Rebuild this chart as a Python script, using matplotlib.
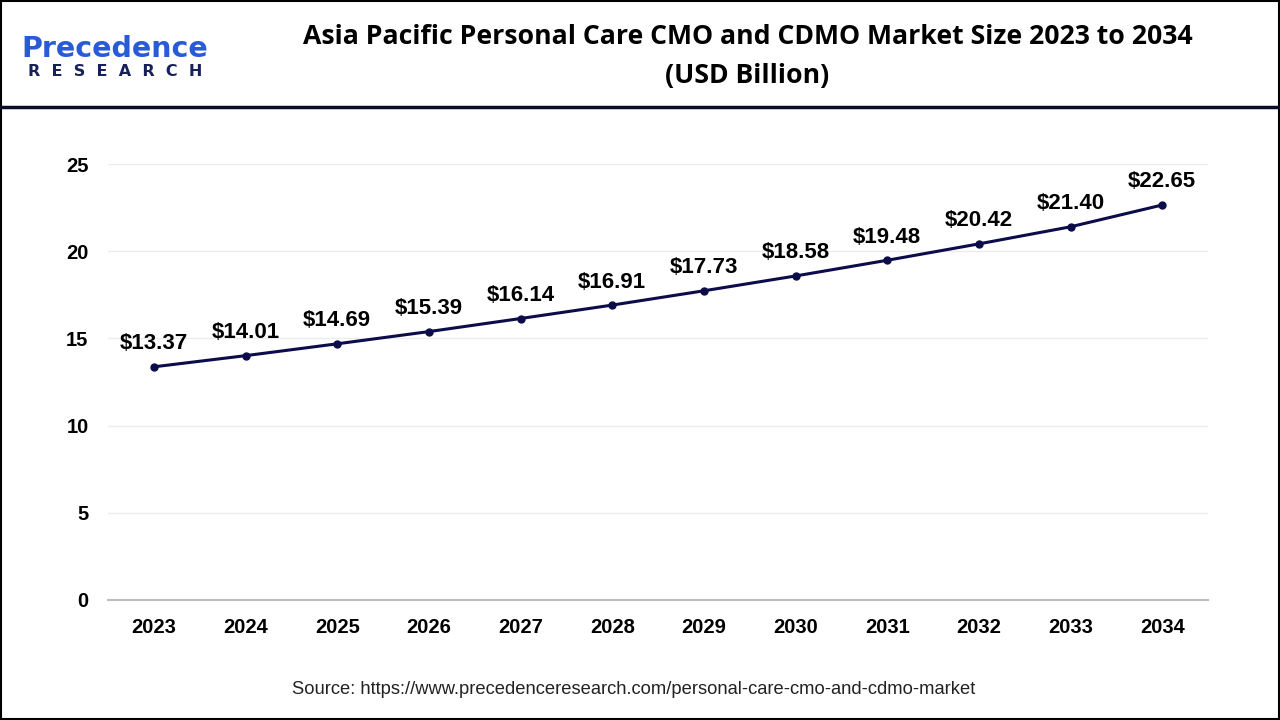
import matplotlib.pyplot as plt
from matplotlib.patches import Rectangle
from matplotlib.lines import Line2D

years = ["2023", "2024", "2025", "2026", "2027", "2028",
         "2029", "2030", "2031", "2032", "2033", "2034"]
market_size = [13.37, 14.01, 14.69, 15.39, 16.14, 16.91,
               17.73, 18.58, 19.48, 20.42, 21.40, 22.65]
y_ticks = [0, 5, 10, 15, 20, 25]

line_color = "#0c0c4a"
plt.rcParams["font.family"] = ["Liberation Sans", "DejaVu Sans"]

fig = plt.figure(figsize=(12.8, 7.2), dpi=100)

# frame and header separator
fig.patches.append(Rectangle((0.001, 0.001), 0.998, 0.998, transform=fig.transFigure,
                             fill=False, edgecolor="black", linewidth=1.5))
fig.add_artist(Line2D([0, 1], [0.851, 0.851], transform=fig.transFigure,
                      color="#0c0c2a", linewidth=2.5))

# logo
fig.text(0.017, 0.932, "Precedence", fontsize=20.5, color="#2a5bd7",
         fontweight="bold", va="center", ha="left", family="DejaVu Sans")
fig.text(0.022, 0.900, "R  E  S  E  A  R  C  H", fontsize=11.5, color="#16205a",
         fontweight="bold", va="center", ha="left", family="DejaVu Sans")

# title
fig.text(0.584, 0.948, "Asia Pacific Personal Care CMO and CDMO Market Size 2023 to 2034",
         fontsize=19.2, fontweight="bold", ha="center", va="center", family="Open Sans")
fig.text(0.584, 0.895, "(USD Billion)", fontsize=19.2, fontweight="bold",
         ha="center", va="center", family="Open Sans")

ax = fig.add_axes([0.0844, 0.1667, 0.8594, 0.6055])
x = list(range(len(years)))
ax.plot(x, market_size, color=line_color, linewidth=2.2, marker="o", markersize=5)

for xi, v in zip(x, market_size):
    ax.annotate(f"${v:.2f}", (xi, v), xytext=(0, 9), textcoords="offset points",
                ha="center", va="bottom", fontsize=16, fontweight="bold")

ax.set_xlim(-0.5, 11.5)
ax.set_ylim(0, 25)
ax.set_xticks(x)
ax.set_xticklabels(years, fontsize=14.5, fontweight="bold")
ax.set_yticks(y_ticks)
ax.set_yticklabels([str(t) for t in y_ticks], fontsize=14.5, fontweight="bold")
ax.tick_params(length=0, pad=13)
ax.tick_params(axis="y", pad=14)
ax.yaxis.grid(True, color="#ececec", linewidth=1)
ax.set_axisbelow(True)
for s in ["top", "right", "left"]:
    ax.spines[s].set_visible(False)
ax.spines["bottom"].set_color("#bdbdbd")
ax.spines["bottom"].set_linewidth(1.5)

fig.text(0.495, 0.043, "Source: https://www.precedenceresearch.com/personal-care-cmo-and-cdmo-market",
         fontsize=13.2, ha="center", va="center", color="#222222")

fig.savefig("out.png", dpi=100)
